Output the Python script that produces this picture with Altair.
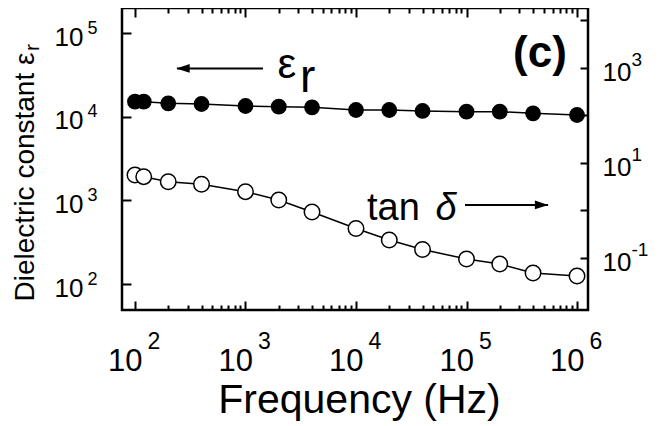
import altair as alt
import pandas as pd

# ---- data ----
freq = [100, 120, 200, 400, 1000, 2000, 4000, 1e4, 2e4, 4e4, 1e5, 2e5, 4e5, 1e6]
eps_r = [15100, 15100, 14450, 14170, 13420, 13160, 12940, 12020, 12020, 11700,
         11470, 11470, 10960, 10470]
tan_delta = [5.59, 5.15, 4.04, 3.56, 2.49, 1.66, 0.93, 0.418, 0.239, 0.151,
             0.0953, 0.0748, 0.0483, 0.0418]

# ---- axis ticks ----
x_major = [1e2, 1e3, 1e4, 1e5, 1e6]
x_minor = [k * 10 ** e for e in range(2, 6) for k in range(2, 10)]
eps_ticks = [1e2, 1e3, 1e4, 1e5]
tan_ticks = [1e-1, 1e0, 1e1, 1e2, 1e3, 1e4]
tan_labeled = [1e-1, 1e1, 1e3]

X_DOMAIN = [76.3, 1.257e6]
EPS_DOMAIN = [48.9, 1.99e5]
TAN_DOMAIN = [0.00804, 18300]

# ---- annotations (data coordinates) ----
eps_arrow = {"freq": [240], "freq2": [1440], "eps": [37700]}
eps_arrow_head = {"freq": [272], "eps": [37700]}
tan_arrow = {"freq": [96900], "freq2": [547000], "tan": [1.31]}
tan_arrow_head = {"freq": [478000], "tan": [1.31]}
eps_sym = {"freq": [1953], "eps": [29000], "text": ["ε"]}
eps_sub = {"freq": [3110], "eps": [19700], "text": ["r"]}
panel = {"freq": [462000], "eps": [39300], "text": ["(c)"]}
tan_word = {"freq": [12580], "tan": [0.63], "text": ["tan"]}
tan_sym = {"freq": [52500], "tan": [0.63], "text": ["δ"]}

df = pd.DataFrame({"freq": freq, "eps": eps_r, "tan": tan_delta})

FONT = "Liberation Sans"
EXP_EXPR = "'' + round(log(datum.value) / LN10)"


def xenc(axis):
    return alt.X("freq:Q", scale=alt.Scale(type="log", domain=X_DOMAIN, nice=False), axis=axis)


def yeps(axis):
    return alt.Y("eps:Q", scale=alt.Scale(type="log", domain=EPS_DOMAIN, nice=False), axis=axis)


def ytan(axis):
    return alt.Y("tan:Q", scale=alt.Scale(type="log", domain=TAN_DOMAIN, nice=False), axis=axis)


common = dict(domain=False, grid=False, labelOverlap=False, labelFlush=False,
              labelColor="black", labelFont=FONT)

# x axes
ax_x_base = alt.Axis(orient="bottom", values=x_major, labelExpr="'10'",
                     labelFontSize=31, labelAlign="right", labelBaseline="alphabetic",
                     labelOffset=7, labelPadding=60, ticks=False, tickSize=0,
                     title="Frequency (Hz)", titleFont=FONT, titleFontSize=41,
                     titleFontWeight="normal", titleX=237, titleY=102,
                     titleBaseline="alphabetic", titleAlign="center", titleColor="black", **common)
ax_x_exp = alt.Axis(orient="bottom", values=x_major, labelExpr=EXP_EXPR,
                    labelFontSize=23, labelAlign="left", labelBaseline="alphabetic",
                    labelOffset=12, labelPadding=38, ticks=False, tickSize=0, title=None, **common)
ax_x_maj_b = alt.Axis(orient="bottom", values=x_major, labels=False, tickSize=9, tickWidth=2,
                      tickColor="black", offset=-9, title=None, domain=False, grid=False)
ax_x_min_b = alt.Axis(orient="bottom", values=x_minor, labels=False, tickSize=5, tickWidth=2,
                      tickColor="black", offset=-5, title=None, domain=False, grid=False)
ax_x_maj_t = alt.Axis(orient="top", values=x_major, labels=False, tickSize=9, tickWidth=2,
                      tickColor="black", offset=-9, title=None, domain=False, grid=False)
ax_x_min_t = alt.Axis(orient="top", values=x_minor, labels=False, tickSize=5, tickWidth=2,
                      tickColor="black", offset=-5, title=None, domain=False, grid=False)

# left y axes
ax_l_base = alt.Axis(orient="left", values=eps_ticks, labelExpr="'10'",
                     labelFontSize=26, labelAlign="right", labelBaseline="middle",
                     labelOffset=4, labelPadding=39, ticks=False, tickSize=0,
                     title="Dielectric constant ε", titleFont=FONT, titleFontSize=28,
                     titleFontWeight="normal", titleAngle=270, titleAlign="right",
                     titleBaseline="alphabetic", titleX=-89, titleY=44, titleColor="black",
                     **common)
ax_l_exp = alt.Axis(orient="left", values=eps_ticks, labelExpr=EXP_EXPR,
                    labelFontSize=18, labelAlign="right", labelBaseline="middle",
                    labelOffset=-5, labelPadding=25, ticks=False, tickSize=0, title=None, **common)
ax_l_ticks = alt.Axis(orient="left", values=eps_ticks, labels=False, tickSize=9, tickWidth=2,
                      tickColor="black", offset=-9, title=None, domain=False, grid=False)

# right y axes
ax_r_base = alt.Axis(orient="right", values=tan_labeled, labelExpr="'10'",
                     labelFontSize=26, labelAlign="left", labelBaseline="middle",
                     labelOffset=5, labelPadding=14, ticks=False, tickSize=0, title=None, **common)
ax_r_exp = alt.Axis(orient="right", values=tan_labeled, labelExpr=EXP_EXPR,
                    labelFontSize=19, labelAlign="left", labelBaseline="middle",
                    labelOffset=-8, labelPadding=43, ticks=False, tickSize=0, title=None, **common)
ax_r_ticks = alt.Axis(orient="right", values=tan_ticks, labels=False, tickSize=8, tickWidth=2,
                      tickColor="black", offset=-8, title=None, domain=False, grid=False)

base = alt.Chart(df)

eps_line = base.mark_line(color="black", strokeWidth=1.5).encode(x=xenc(ax_x_base), y=yeps(ax_l_base))
tan_line = base.mark_line(color="black", strokeWidth=1.5).encode(x=xenc(ax_x_maj_b), y=ytan(ax_r_base))
eps_pts = base.mark_point(shape="circle", filled=True, color="black", size=250, opacity=1).encode(
    x=xenc(ax_x_exp), y=yeps(ax_l_exp))
tan_pts = base.mark_point(shape="circle", filled=True, fill="white", stroke="black",
                          strokeWidth=1.5, size=240, opacity=1).encode(
    x=xenc(ax_x_min_b), y=ytan(ax_r_exp))
eps_ghost = base.mark_point(opacity=0).encode(x=xenc(ax_x_maj_t), y=yeps(ax_l_ticks))
tan_ghost = base.mark_point(opacity=0).encode(x=xenc(ax_x_min_t), y=ytan(ax_r_ticks))

# annotations
a1 = alt.Chart(pd.DataFrame(eps_arrow)).mark_rule(color="black", strokeWidth=2).encode(
    x=xenc(None), x2="freq2:Q", y=yeps(None))
a1h = alt.Chart(pd.DataFrame(eps_arrow_head)).mark_point(
    shape="M-1,0L1,-0.65L1,0.65Z", filled=True, color="black", size=180, opacity=1).encode(
    x=xenc(None), y=yeps(None))
a2 = alt.Chart(pd.DataFrame(tan_arrow)).mark_rule(color="black", strokeWidth=2).encode(
    x=xenc(None), x2="freq2:Q", y=ytan(None))
a2h = alt.Chart(pd.DataFrame(tan_arrow_head)).mark_point(
    shape="M1,0L-1,-0.65L-1,0.65Z", filled=True, color="black", size=180, opacity=1).encode(
    x=xenc(None), y=ytan(None))
t_eps = alt.Chart(pd.DataFrame(eps_sym)).mark_text(font=FONT, fontSize=42, align="left",
                                                   baseline="alphabetic", color="black").encode(
    x=xenc(None), y=yeps(None), text="text:N")
t_sub = alt.Chart(pd.DataFrame(eps_sub)).mark_text(font=FONT, fontSize=46, align="left",
                                                   baseline="alphabetic", color="black").encode(
    x=xenc(None), y=yeps(None), text="text:N")
t_panel = alt.Chart(pd.DataFrame(panel)).mark_text(font=FONT, fontSize=44, fontWeight="bold",
                                                   align="center", baseline="alphabetic",
                                                   color="black").encode(
    x=xenc(None), y=yeps(None), text="text:N")
t_tan = alt.Chart(pd.DataFrame(tan_word)).mark_text(font=FONT, fontSize=38, align="left",
                                                    baseline="alphabetic", color="black").encode(
    x=xenc(None), y=ytan(None), text="text:N")
t_delta = alt.Chart(pd.DataFrame(tan_sym)).mark_text(font=FONT, fontSize=38, fontStyle="italic",
                                                     align="left", baseline="alphabetic",
                                                     color="black").encode(
    x=xenc(None), y=ytan(None), text="text:N")
title_sub = alt.Chart(pd.DataFrame({"text": ["r"]})).mark_text(
    font=FONT, fontSize=21, angle=270, align="left", baseline="alphabetic", color="black").encode(
    x=alt.value(-83), y=alt.value(43), text="text:N")

chart = alt.layer(
    eps_line, tan_line, eps_ghost, tan_ghost, eps_pts, tan_pts,
    a1, a1h, a2, a2h, t_eps, t_sub, t_panel, t_tan, t_delta, title_sub,
).resolve_scale(y="independent").resolve_axis(x="independent", y="independent").properties(
    width=466, height=302, autosize="none",
    padding={"left": 114, "top": 0, "right": 66, "bottom": 112},
).configure_view(stroke="black", strokeWidth=2.5)

chart.save("out.html", embed_options={"renderer": "svg", "actions": False})
